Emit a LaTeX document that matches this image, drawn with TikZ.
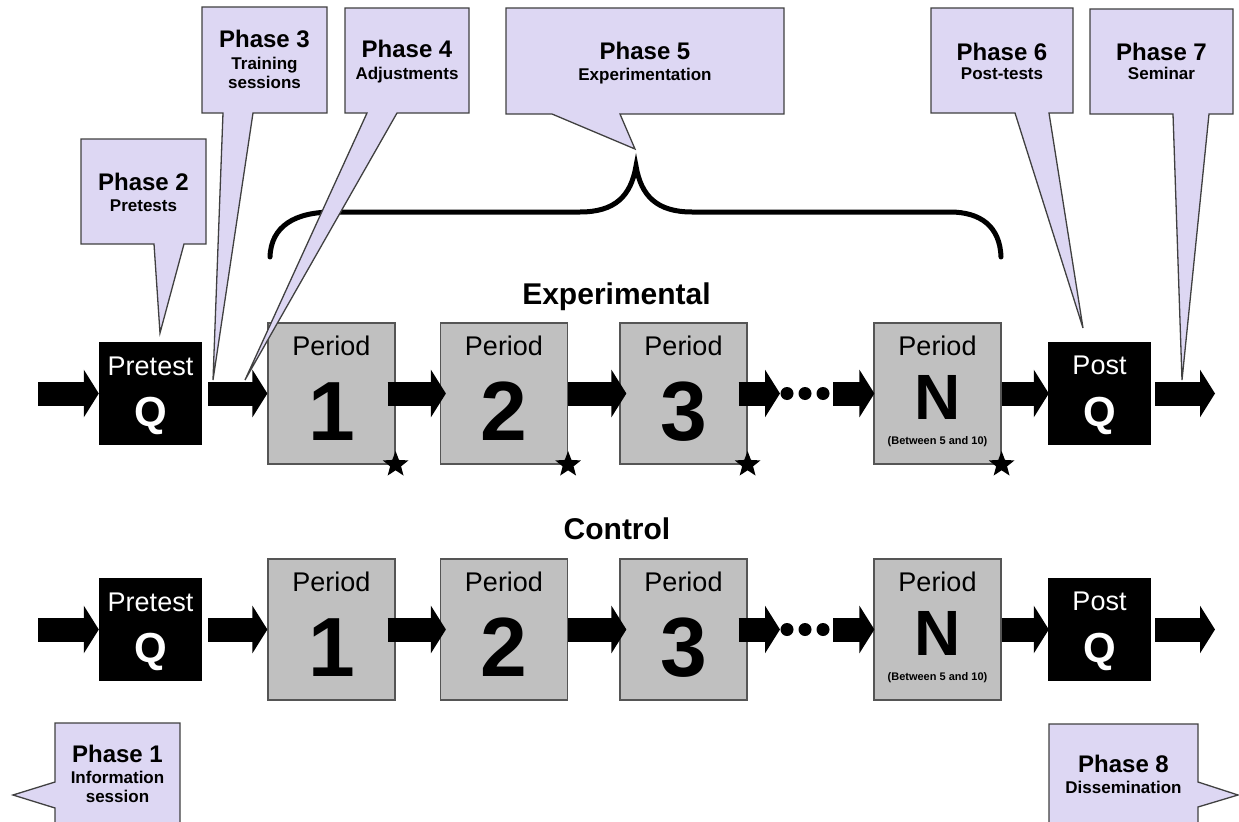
\documentclass[tikz,border=0pt]{standalone}
\usepackage{fontspec}
\setmainfont{Liberation Sans}
\usetikzlibrary{arrows.meta,shapes.geometric}
\definecolor{lav}{RGB}{221,215,243}
\definecolor{cline}{RGB}{64,64,64}
\definecolor{pgray}{RGB}{192,192,192}
\definecolor{pline}{RGB}{85,85,85}
\begin{document}
\begin{tikzpicture}[x=1bp,y=-1bp,
 pbox/.style={draw=pline, fill=pgray, line width=1.2bp, minimum width=127bp, minimum height=141bp, inner sep=0pt},
 qbox/.style={fill=black, minimum width=103bp, minimum height=103bp, inner sep=0pt},
 bigarrow/.style={line width=24bp, -{Triangle[width=47bp,length=15bp]}},
 callout/.style={draw=cline, fill=lav, line width=1.3bp, line join=miter},
 phtitle/.style={anchor=base, inner sep=0pt, font=\bfseries\fontsize{24bp}{24bp}\selectfont},
 phsub/.style={anchor=base, inner sep=0pt, font=\bfseries\fontsize{17bp}{17bp}\selectfont},
 pertxt/.style={anchor=base, inner sep=0pt, font=\fontsize{27bp}{27bp}\selectfont},
 qtxt/.style={anchor=base, inner sep=0pt, text=white, font=\fontsize{27bp}{27bp}\selectfont},
 qbig/.style={anchor=base, inner sep=0pt, text=white, font=\bfseries\fontsize{42bp}{42bp}\selectfont},
 bignum/.style={anchor=base, inner sep=0pt, font=\bfseries\fontsize{84bp}{84bp}\selectfont},
 bigN/.style={anchor=base, inner sep=0pt, font=\bfseries\fontsize{64bp}{64bp}\selectfont},
 smalltxt/.style={anchor=base, inner sep=0pt, font=\bfseries\fontsize{11bp}{11bp}\selectfont},
 heading/.style={anchor=base, inner sep=0pt, font=\bfseries\fontsize{30bp}{30bp}\selectfont},
 dotnode/.style={circle, fill=black, minimum size=13bp, inner sep=0pt},
 mystar/.style={star, star points=5, star point ratio=2.35, fill=black, minimum size=27bp, inner sep=0pt}
]
\useasboundingbox (0,0) rectangle (1239,822);
\clip (0,0) rectangle (1239,822);

% brace
\draw[line width=5bp, line cap=round] (270,257) .. controls (271,226) and (295,212) .. (333,212) -- (580,212)
  .. controls (615,212) and (631,196) .. (636,166) .. controls (641,196) and (657,212) .. (692,212)
  -- (950,212) .. controls (980,212) and (1000,226) .. (1001,257);

\node[heading] (hexp) at (616.5,304) {Experimental};
\node[heading] (hctl) at (617,539) {Control};

\foreach \r/\yy in {e/393.5,c/629.5}{
  \node[qbox] (pre\r) at (150.5,\yy) {};
  \node[pbox] (pa\r) at (331.5,\yy) {};
  \node[pbox] (pb\r) at (504,\yy) {};
  \node[pbox] (pc\r) at (683.5,\yy) {};
  \node[pbox] (pn\r) at (937.5,\yy) {};
  \node[qbox] (post\r) at (1099.5,\yy) {};
  \coordinate (in\r) at (38,\yy);
  \coordinate (out\r) at (1215,\yy);
  \coordinate (dl\r) at (780,\yy);
  \coordinate (dr\r) at (833,\yy);
  % texts
  \node[qtxt] (tpre\r) at (150.5,{\yy-18.5}) {Pretest};
  \node[qbig] (qpre\r) at (150.5,{\yy+32.5}) {Q};
  \node[qtxt] (tpost\r) at (1099.5,{\yy-19.5}) {Post};
  \node[qbig] (qpost\r) at (1099.5,{\yy+32.5}) {Q};
  \node[pertxt] (ta\r) at (331.5,{\yy-38.5}) {Period};
  \node[pertxt] (tb\r) at (504,{\yy-38.5}) {Period};
  \node[pertxt] (tc\r) at (683.5,{\yy-38.5}) {Period};
  \node[pertxt] (tn\r) at (937.5,{\yy-38.5}) {Period};
  \node[bignum] (na\r) at (331.5,{\yy+46.5}) {1};
  \node[bignum] (nb\r) at (504,{\yy+46.5}) {2};
  \node[bignum] (nc\r) at (683.5,{\yy+46.5}) {3};
  \node[bigN] (nn\r) at (937.5,{\yy+25.5}) {N};
  \node[smalltxt] (bt\r) at (937.5,{\yy+50.5}) {(Between 5 and 10)};
  % arrows
  \draw[bigarrow] (in\r) -- (pre\r.west);
  \draw[bigarrow] ([xshift=6bp]pre\r.east) -- (pa\r.west);
  \draw[bigarrow] ([xshift=-8bp]pa\r.east) -- ([xshift=6bp]pb\r.west);
  \draw[bigarrow] (pb\r.east) -- ([xshift=7bp]pc\r.west);
  \draw[bigarrow] ([xshift=-9bp]pc\r.east) -- (dl\r);
  \draw[bigarrow] (dr\r) -- ([xshift=1bp]pn\r.west);
  \draw[bigarrow] (pn\r.east) -- ([xshift=1bp]post\r.west);
  \draw[bigarrow] ([xshift=4bp]post\r.east) -- (out\r);
  \node[dotnode] (da\r) at (787,\yy) {};
  \node[dotnode] (db\r) at (805,\yy) {};
  \node[dotnode] (dc\r) at (823,\yy) {};
}
\foreach \b in {pa,pb,pc,pn}{
  \node[mystar] (s\b) at (\b e.south east) {};
}

% callouts
\draw[callout] (81,139) -- (206,139) -- (206,244) -- (184,244) -- (160,333) -- (154,244) -- (81,244) -- cycle;
\draw[callout] (202,7) -- (327,7) -- (327,113) -- (253,113) -- (213,380) -- (223,113) -- (202,113) -- cycle;
\draw[callout] (345,8) -- (469,8) -- (469,113) -- (397,113) -- (245,380) -- (367,113) -- (345,113) -- cycle;
\draw[callout] (506,8) -- (784,8) -- (784,114) -- (620,114) -- (635,149) -- (552,114) -- (506,114) -- cycle;
\draw[callout] (931,8) -- (1073,8) -- (1073,113) -- (1049,113) -- (1083,328) -- (1015,113) -- (931,113) -- cycle;
\draw[callout] (1090,9) -- (1233,9) -- (1233,114) -- (1209,114) -- (1182,380) -- (1173,114) -- (1090,114) -- cycle;
\draw[callout] (55,723) -- (180,723) -- (180,830) -- (55,830) -- (55,808) -- (13,795) -- (55,782) -- cycle;
\draw[callout] (1049,724) -- (1198,724) -- (1198,782) -- (1238,795) -- (1198,807) -- (1198,830) -- (1049,830) -- cycle;

\node[phtitle] (c2a) at (143.5,190) {Phase 2};
\node[phsub] (c2b) at (143.5,211) {Pretests};
\node[phtitle] (c3a) at (264.5,48) {Phase 3};
\node[phsub] (c3b) at (264.5,70) {Training};
\node[phsub] (c3c) at (264.5,89) {sessions};
\node[phtitle] (c4a) at (407,58) {Phase 4};
\node[phsub] (c4b) at (407,80) {Adjustments};
\node[phtitle] (c5a) at (645,60) {Phase 5};
\node[phsub] (c5b) at (645,81) {Experimentation};
\node[phtitle] (c6a) at (1002,61) {Phase 6};
\node[phsub] (c6b) at (1002,80) {Post-tests};
\node[phtitle] (c7a) at (1161.5,61) {Phase 7};
\node[phsub] (c7b) at (1161.5,80) {Seminar};
\node[phtitle] (c1a) at (117.5,762) {Phase 1};
\node[phsub] (c1b) at (117.5,783) {Information};
\node[phsub] (c1c) at (117.5,802) {session};
\node[phtitle] (c8a) at (1123.5,772) {Phase 8};
\node[phsub] (c8b) at (1123.5,793) {Dissemination};
\end{tikzpicture}
\end{document}
